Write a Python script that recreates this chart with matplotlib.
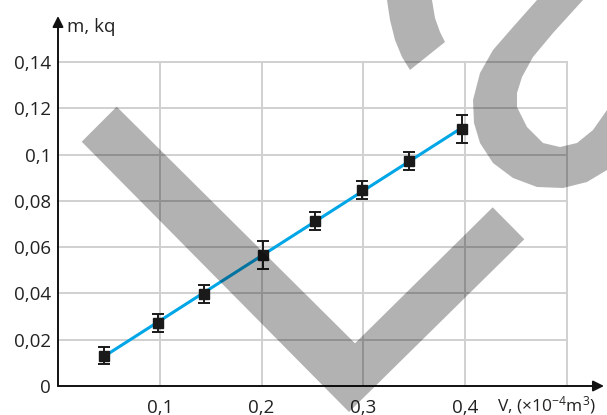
import numpy as np
import matplotlib
matplotlib.use("Agg")
import matplotlib.pyplot as plt
from matplotlib.patches import Polygon

plt.rcParams['font.family'] = ['Open Sans', 'DejaVu Sans']
plt.rcParams['mathtext.fontset'] = 'custom'
plt.rcParams['mathtext.rm'] = 'Open Sans'
plt.rcParams['mathtext.it'] = 'Open Sans'

# data
volume = [0.045, 0.098, 0.143, 0.201, 0.252, 0.299, 0.345, 0.397]
mass = [0.0130, 0.0273, 0.0397, 0.0566, 0.0713, 0.0847, 0.0973, 0.111]
mass_err = [0.0037, 0.004, 0.004, 0.006, 0.004, 0.004, 0.004, 0.006]

x_ticks = [0.1, 0.2, 0.3, 0.4, 0.5]
x_labels = ["0,1", "0,2", "0,3", "0,4", ""]
y_ticks = [0, 0.02, 0.04, 0.06, 0.08, 0.1, 0.12, 0.14]
y_labels = ["0", "0,02", "0,04", "0,06", "0,08", "0,1", "0,12", "0,14"]

W, H = 607, 415
fig = plt.figure(figsize=(W / 100, H / 100), dpi=100)
ax = fig.add_axes([58 / W, 1 - 386 / H, (567 - 58) / W, (386 - 62) / H])

# fitted straight line between first and last point
k, b = np.polyfit(volume, mass, 1)
xl = np.array([volume[0], volume[-1]])
ax.plot(xl, k * xl + b, color="#00a6e6", lw=2.2, zorder=3)
ax.errorbar(volume, mass, yerr=mass_err, fmt="s", color="#1a1a1a",
            ms=6.5, elinewidth=1.4, capsize=4, capthick=1.4, zorder=4)

ax.set_xlim(0, 0.5)
ax.set_ylim(0, 0.14)
ax.set_xticks(x_ticks)
ax.set_xticklabels(x_labels)
ax.set_yticks(y_ticks)
ax.set_yticklabels(y_labels)
ax.tick_params(length=0, labelsize=13.5, colors="#222222")
ax.tick_params(axis="x", pad=9)
ax.tick_params(axis="y", pad=5)
ax.grid(color="#d0d0d0", lw=1.4)
ax.set_axisbelow(True)
for ln in ax.get_xgridlines() + ax.get_ygridlines():
    ln.set_clip_on(False)
for s in ax.spines.values():
    s.set_visible(False)

# axes with arrows
arr = dict(arrowstyle="-|>", color="#111111", lw=1.4, mutation_scale=16,
           shrinkA=0, shrinkB=0)
ax.annotate("", xy=((604 - 58) / 509, 0), xytext=(0, 0),
            xycoords="axes fraction", arrowprops=arr, annotation_clip=False)
ax.annotate("", xy=(0, (386 - 16) / 324), xytext=(0, 0),
            xycoords="axes fraction", arrowprops=arr, annotation_clip=False)

fig.text(67 / W, 1 - 27 / H, "m, kq", fontsize=13.5, color="#222222",
         ha="left", va="center")
fig.text(497 / W, 1 - 405 / H, r"V, (×10$^{-4}$m$^{3}$)", fontsize=12.5,
         color="#222222", ha="left", va="center")

# grey watermark shapes (pixel coordinates of the picture)
def px(pts):
    return [(x / W, 1 - y / H) for x, y in pts]

v_shape = [(81.7, 141.7), (116.7, 106.7), (355, 343.3), (492.7, 207.3),
           (524.3, 239.3), (349, 412)]
hook = [(537, 0), (513, 27), (493, 50), (480, 73), (473, 100), (474, 123),
        (480, 143), (493, 163), (513, 178), (537, 187), (563, 188),
        (587, 182), (607, 170), (607, 110), (593, 130), (577, 143),
        (560, 147), (543, 143), (527, 127), (517, 107), (517, 93),
        (522, 77), (533, 57), (553, 33), (583, 0)]
tail = [(387, 0), (390, 20), (395, 40), (402, 57), (410, 70), (445, 42),
        (440, 32), (435, 18), (432, 0)]
for shape in (v_shape, hook, tail):
    fig.add_artist(Polygon(px(shape), closed=True, transform=fig.transFigure,
                           facecolor="black", edgecolor="none", alpha=0.3,
                           zorder=10))

fig.savefig("out.png", dpi=100)
